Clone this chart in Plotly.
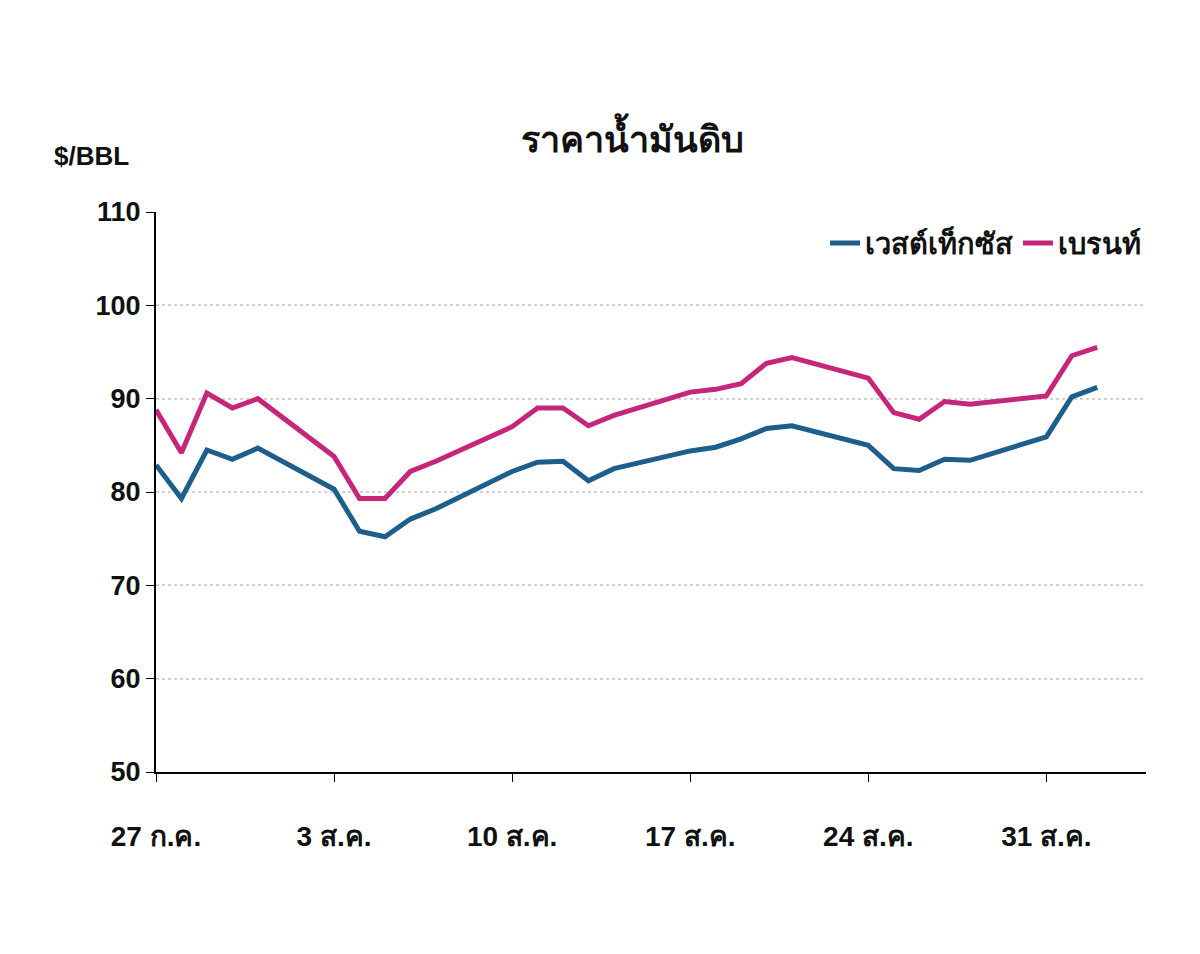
import plotly.graph_objects as go

dates = ["2015-07-27", "2015-07-28", "2015-07-29", "2015-07-30", "2015-07-31",
         "2015-08-03", "2015-08-04", "2015-08-05", "2015-08-06", "2015-08-07",
         "2015-08-10", "2015-08-11", "2015-08-12", "2015-08-13", "2015-08-14",
         "2015-08-17", "2015-08-18", "2015-08-19", "2015-08-20", "2015-08-21",
         "2015-08-24", "2015-08-25", "2015-08-26", "2015-08-27", "2015-08-28",
         "2015-08-31", "2015-09-01", "2015-09-02"]
wti = [82.9, 79.3, 84.5, 83.5, 84.7, 80.3, 75.8, 75.2, 77.1, 78.2,
       82.2, 83.2, 83.3, 81.2, 82.5, 84.4, 84.8, 85.7, 86.8, 87.1,
       85.0, 82.5, 82.3, 83.5, 83.4, 85.9, 90.2, 91.2]
brent = [88.8, 84.2, 90.6, 89.0, 90.0, 83.8, 79.3, 79.3, 82.2, 83.3,
         87.0, 89.0, 89.0, 87.1, 88.2, 90.7, 91.0, 91.6, 93.8, 94.4,
         92.2, 88.5, 87.8, 89.7, 89.4, 90.3, 94.6, 95.5]
tick_dates = ["2015-07-27", "2015-08-03", "2015-08-10", "2015-08-17", "2015-08-24", "2015-08-31"]
tick_labels = ["27 ก.ค.", "3 ส.ค.", "10 ส.ค.", "17 ส.ค.", "24 ส.ค.", "31 ส.ค."]

font = "Liberation Sans, Noto Sans, sans-serif"
fig = go.Figure()
fig.add_trace(go.Scatter(x=dates, y=wti, mode="lines", name="<b>เวสต์เท็กซัส</b>",
                         line=dict(color="#1d5f8a", width=5)))
fig.add_trace(go.Scatter(x=dates, y=brent, mode="lines", name="<b>เบรนท์</b>",
                         line=dict(color="#c62679", width=5)))

fig.update_layout(
    width=1200, height=954, paper_bgcolor="white", plot_bgcolor="white",
    margin=dict(l=148, r=62, t=204, b=190),
    font=dict(family=font, size=26, color="#111"),
    title=dict(text="<b>ราคาน้ำมันดิบ</b>", x=0.52, xanchor="center", y=0.875,
               font=dict(size=36)),
    legend=dict(orientation="h", x=1.0, xanchor="right", y=0.99, yanchor="top",
                font=dict(size=29), bgcolor="rgba(0,0,0,0)"),
    annotations=[dict(text="<b>$/BBL</b>", xref="paper", yref="paper", x=-0.105, y=1.07,
                      xanchor="left", yanchor="bottom", showarrow=False, font=dict(size=26))],
)
fig.update_xaxes(range=["2015-07-27", "2015-09-03 22:00"], tickvals=tick_dates,
                 ticktext=["<b>%s</b>" % t for t in tick_labels],
                 showline=True, linecolor="black", linewidth=2, ticks="outside",
                 ticklen=8, tickcolor="black", showgrid=False, zeroline=False,
                 ticklabelstandoff=30, tickfont=dict(size=28))
fig.update_yaxes(range=[50, 110], dtick=10, showline=True, linecolor="black", linewidth=2,
                 ticks="outside", ticklen=8, tickcolor="black",
                 tickvals=[50, 60, 70, 80, 90, 100, 110],
                 ticktext=["<b>%d</b>" % v for v in [50, 60, 70, 80, 90, 100, 110]],
                 gridcolor="#d2d2d2", griddash="dot", gridwidth=1.5, zeroline=False,
                 tickfont=dict(size=27))
fig.write_html("out.html")
